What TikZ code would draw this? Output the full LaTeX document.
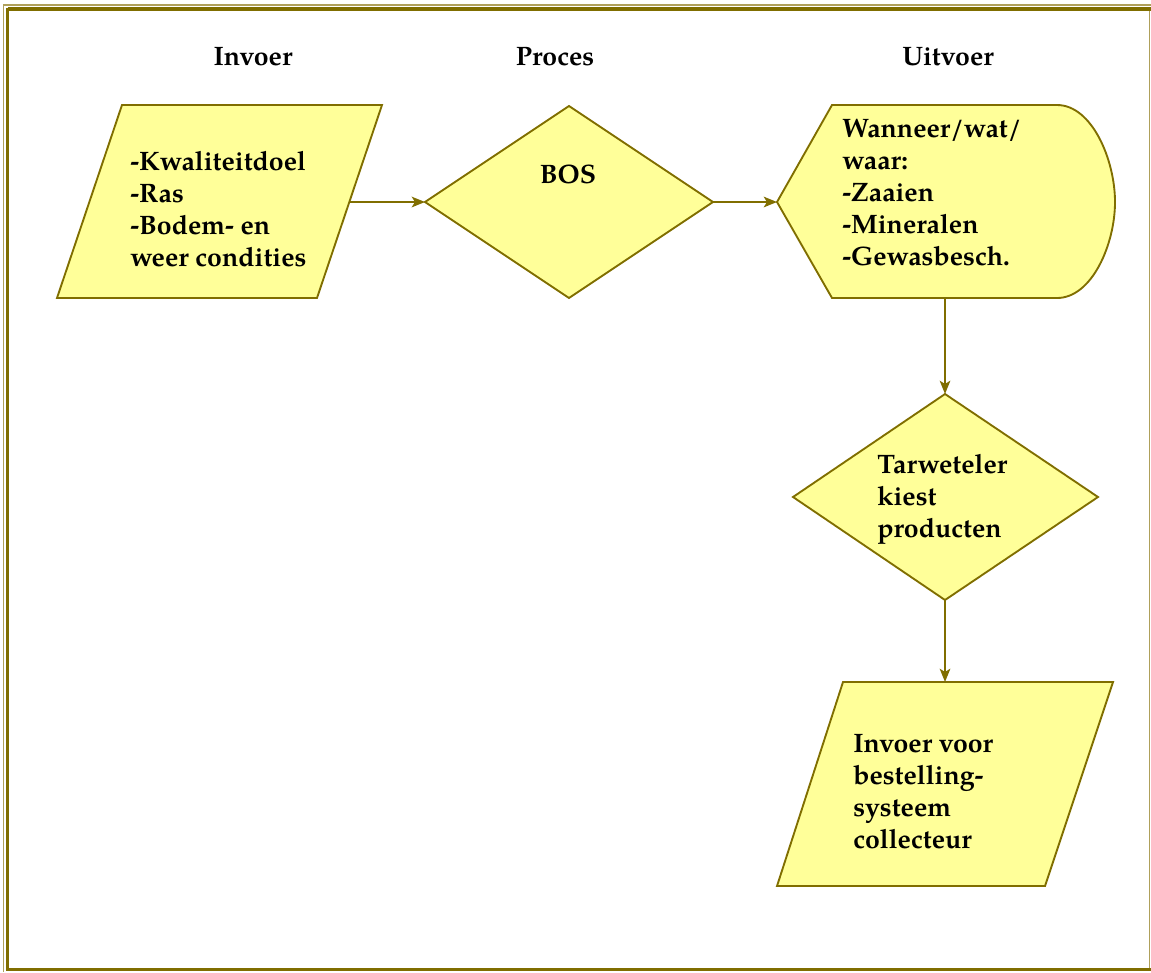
\documentclass[tikz,border=0pt]{standalone}
\usepackage{fontspec}
\setmainfont{TeX Gyre Pagella}
\usetikzlibrary{arrows.meta}
\definecolor{olv}{RGB}{128,110,0}
\definecolor{olvl}{RGB}{175,160,90}
\definecolor{yel}{RGB}{255,255,153}
\newcommand\mylines[1]{\vtop{\baselineskip=24pt\lineskiplimit=-50pt\halign{##\hfil\cr#1\crcr}}}
\begin{document}
\begin{tikzpicture}[x=0.75pt,y=-0.75pt,
  shp/.style={draw=olv,fill=yel,line width=1.4pt,line join=miter},
  lbl/.style={anchor=base west,inner sep=0pt,font=\fontsize{20}{24}\selectfont\bfseries},
  hdr/.style={anchor=base,inner sep=0pt,font=\fontsize{20}{24}\selectfont\bfseries},
  conn/.style={draw=olv,line width=1.4pt,-{Stealth[length=10pt,width=8pt,inset=2.5pt]}},
  thinfr/.style={draw=olvl,line width=1pt},
  thickfr/.style={draw=olv,line width=2.4pt}]
\useasboundingbox (0,0) rectangle (1151,972);
% frame
\draw[thinfr] (3,5) -- (1151,5);
\draw[thinfr] (3.5,5) -- (3.5,972);
\draw[thinfr] (1149.5,9) -- (1149.5,970);
\draw[thickfr] (7.5,9) -- (1151,9);
\draw[thickfr] (7.5,8) -- (7.5,971);
\draw[thickfr] (6.5,969.5) -- (1151,969.5);
% headers
\node[hdr] (hin) at (253,65) {Invoer};
\node[hdr] (hpr) at (555,65) {Proces};
\node[hdr] (hut) at (948,65) {Uitvoer};
% shapes
\draw[shp] (122,105) -- (382,105) -- (317,298) -- (57,298) -- cycle;
\draw[shp] (425,202) -- (569,106) -- (713,202) -- (569,298) -- cycle;
\draw[shp] (777,202) -- (832,105) -- (1057,105)
  .. controls (1092,105) and (1115,160) .. (1115,202)
  .. controls (1115,244) and (1092,298) .. (1057,298)
  -- (832,298) -- cycle;
\draw[shp] (945,394) -- (1098,497) -- (945,600) -- (793,497) -- cycle;
\draw[shp] (843,682) -- (1113,682) -- (1045,886) -- (777,886) -- cycle;
% connection points
\coordinate (p1e) at (349.3,202);
\coordinate (d1w) at (425,202);
\coordinate (d1e) at (713,202);
\coordinate (dsw) at (777,202);
\coordinate (dss) at (945,298);
\coordinate (d2n) at (945,394);
\coordinate (d2s) at (945,600);
\coordinate (p2n) at (945,682);
% texts
\node[lbl] (t1) at (130,170) {\mylines{-Kwaliteitdoel\cr -Ras\cr -Bodem- en\cr weer condities}};
\node[hdr] (t2) at (568,183) {BOS};
\node[lbl] (t3) at (842,137) {\mylines{Wanneer/wat/\cr waar:\cr -Zaaien\cr -Mineralen\cr -Gewasbesch.}};
\node[lbl] (t4) at (877,473) {\mylines{Tarweteler\cr kiest\cr producten}};
\node[lbl] (t5) at (853,752) {\mylines{Invoer voor\cr bestelling-\cr systeem\cr collecteur}};
% connectors
\draw[conn] (p1e) -- (d1w);
\draw[conn] (d1e) -- (dsw);
\draw[conn] (dss) -- (d2n);
\draw[conn] (d2s) -- (p2n);
\end{tikzpicture}
\end{document}
